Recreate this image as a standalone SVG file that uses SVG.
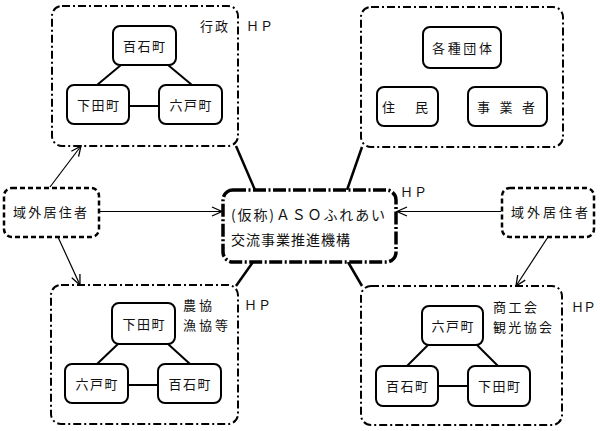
<svg xmlns="http://www.w3.org/2000/svg" width="600" height="431" viewBox="0 0 600 431">
<defs>
<marker id="arr" markerUnits="userSpaceOnUse" markerWidth="12" markerHeight="12" viewBox="0 0 12 12" refX="11" refY="6" orient="auto">
<path d="M1,1.5 L11,6 L1,10.5" fill="none" stroke="#000" stroke-width="1.3"/>
</marker>
</defs>
<style>
text{font-family:"Noto Sans CJK JP","Noto Sans CJK SC",sans-serif;fill:#111;}
.grp{fill:none;stroke:#000;stroke-width:2;stroke-dasharray:8 3 2 3;}
.out{fill:#fff;stroke:#000;stroke-width:2.5;stroke-dasharray:5 3;}
.ctr{fill:#fff;stroke:#000;stroke-width:3.5;stroke-dasharray:13 2.5 2 2.5;}
.nd{fill:#fff;stroke:#000;stroke-width:2;}
.ln{stroke:#000;stroke-width:2;fill:none;}
.thk{stroke:#000;stroke-width:2.5;fill:none;}
.thn{stroke:#000;stroke-width:1.2;fill:none;marker-end:url(#arr);}
.t{font-size:13px;}
.c{font-size:14px;}
</style>

<g id="connectors">
<line class="thk" x1="236" y1="146" x2="255" y2="190"/>
<line class="thk" x1="362" y1="147" x2="347" y2="190"/>
<line class="thk" x1="253" y1="262" x2="236" y2="286"/>
<line class="thk" x1="348" y1="262" x2="362" y2="286"/>
<line class="thn" x1="100" y1="211.5" x2="222" y2="211.5"/>
<line class="thn" x1="501" y1="211.5" x2="397" y2="211.5"/>
<line class="thn" x1="50" y1="187" x2="81" y2="146"/>
<line class="thn" x1="58" y1="237" x2="80" y2="285"/>
<line class="thn" x1="548" y1="237" x2="516" y2="286"/>
</g>

<g id="group-gyosei">
<rect class="grp" x="52" y="6" width="186" height="140" rx="10"/>
<line class="ln" x1="121" y1="65" x2="97" y2="85"/>
<line class="ln" x1="168" y1="65" x2="192" y2="85"/>
<line class="ln" x1="129" y1="106" x2="159" y2="106"/>
<text class="t" x="200" y="31" textLength="28">行政</text>
<text class="t" x="246" y="31" textLength="27">ＨＰ</text>
</g>
<g id="tl-hyakuseki"><rect class="nd" x="113" y="26" width="63" height="39" rx="7"/><text class="t" x="123" y="51" textLength="42">百石町</text></g>
<g id="tl-shimoda"><rect class="nd" x="67" y="85" width="62" height="39" rx="7"/><text class="t" x="77" y="110" textLength="42">下田町</text></g>
<g id="tl-rokunohe"><rect class="nd" x="159" y="85" width="63" height="39" rx="7"/><text class="t" x="169.5" y="110" textLength="42">六戸町</text></g>

<g id="group-dantai">
<rect class="grp" x="361" y="7" width="202" height="140" rx="10"/>
</g>
<g id="tr-kakushu"><rect class="nd" x="423" y="27" width="78" height="41" rx="7"/><text class="t" x="432" y="52.5" textLength="60">各種団体</text></g>
<g id="tr-jumin"><rect class="nd" x="377" y="87" width="61" height="39" rx="7"/><text class="t" x="382" y="111.5" textLength="46">住　民</text></g>
<g id="tr-jigyosha"><rect class="nd" x="468" y="87" width="79" height="39" rx="7"/><text class="t" x="477" y="111.5" textLength="58">事　業　者</text></g>

<g id="center">
<rect class="ctr" x="223" y="190" width="173" height="72" rx="10"/>
<text class="c" x="231" y="220" textLength="154">(仮称)ＡＳＯふれあい</text>
<text class="c" x="231" y="245" textLength="119">交流事業推進機構</text>
<text class="t" x="400" y="197" textLength="27">ＨＰ</text>
</g>

<g id="out-left"><rect class="out" x="4" y="188" width="95" height="49" rx="8"/><text class="t" x="13" y="216.5" textLength="74">域外居住者</text></g>
<g id="out-right"><rect class="out" x="502" y="188" width="92" height="49" rx="8"/><text class="t" x="511" y="216.5" textLength="77">域外居住者</text></g>

<g id="group-nokyo">
<rect class="grp" x="51" y="285" width="187" height="139" rx="10"/>
<line class="ln" x1="118" y1="344" x2="97" y2="364"/>
<line class="ln" x1="168" y1="344" x2="190" y2="364"/>
<line class="ln" x1="128" y1="385" x2="158" y2="385"/>
<text class="t" x="183" y="310" textLength="29">農協</text>
<text class="t" x="183" y="330" textLength="45">漁協等</text>
<text class="t" x="244" y="310" textLength="27">ＨＰ</text>
</g>
<g id="bl-shimoda"><rect class="nd" x="112" y="303" width="63" height="41" rx="7"/><text class="t" x="122.5" y="328.5" textLength="42">下田町</text></g>
<g id="bl-rokunohe"><rect class="nd" x="65" y="364" width="63" height="39" rx="7"/><text class="t" x="75.5" y="388.5" textLength="42">六戸町</text></g>
<g id="bl-hyakuseki"><rect class="nd" x="158" y="364" width="63" height="39" rx="7"/><text class="t" x="168.5" y="388.5" textLength="42">百石町</text></g>

<g id="group-shoko">
<rect class="grp" x="361" y="286" width="201" height="139" rx="10"/>
<line class="ln" x1="428" y1="345" x2="407" y2="366"/>
<line class="ln" x1="477" y1="345" x2="498" y2="366"/>
<line class="ln" x1="438" y1="386" x2="468" y2="386"/>
<text class="t" x="493" y="312" textLength="44">商工会</text>
<text class="t" x="493" y="332" textLength="59">観光協会</text>
<text class="t" x="571" y="312" textLength="25">ＨＰ</text>
</g>
<g id="br-rokunohe"><rect class="nd" x="422" y="306" width="61" height="39" rx="7"/><text class="t" x="431.5" y="330.5" textLength="42">六戸町</text></g>
<g id="br-hyakuseki"><rect class="nd" x="376" y="366" width="62" height="40" rx="7"/><text class="t" x="386" y="391" textLength="42">百石町</text></g>
<g id="br-shimoda"><rect class="nd" x="468" y="366" width="62" height="40" rx="7"/><text class="t" x="478" y="391" textLength="42">下田町</text></g>
</svg>
